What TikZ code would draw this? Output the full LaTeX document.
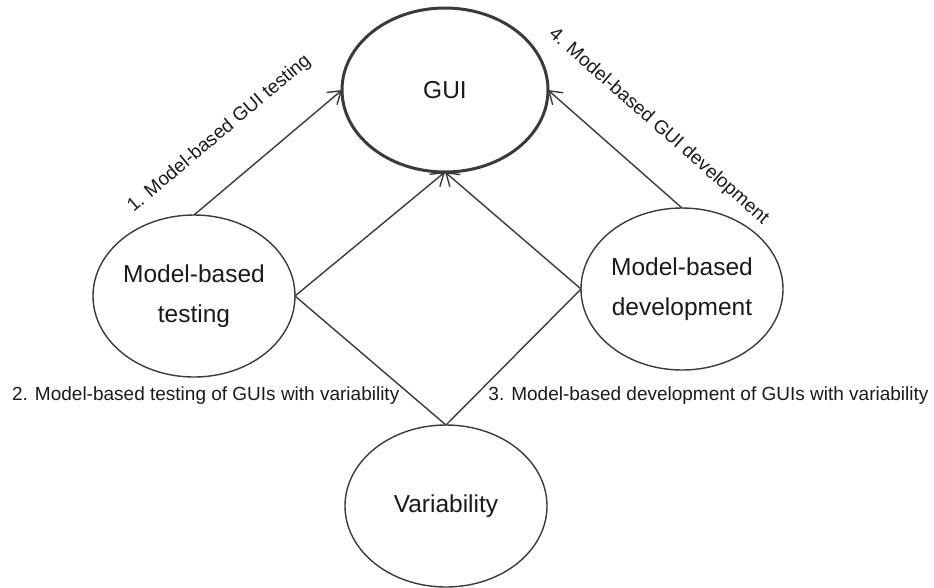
\documentclass[tikz,border=0pt]{standalone}
\usepackage{fontspec}
\setmainfont{Liberation Sans}
\usetikzlibrary{shapes.geometric,arrows.meta}
\definecolor{linegray}{HTML}{3A3A3A}
\definecolor{textgray}{HTML}{1A1A1A}

\begin{document}
\begin{tikzpicture}[x=1pt,y=-1pt]
   \tikzstyle{topic}=[draw=linegray, ellipse, line width=1.4pt, minimum width=202pt, minimum height=162pt, inner sep=0pt, outer sep=0pt, align=center, text=textgray, font=\fontsize{24.5}{40}\selectfont]
   \tikzstyle{link}=[draw=linegray, line width=1.4pt]
   \tikzstyle{into}=[link, -{Straight Barb[length=12pt, width=16pt]}]
   \tikzstyle{lbl}=[text=textgray, inner sep=0pt, font=\fontsize{19}{22}\selectfont]

   \useasboundingbox (0,0) rectangle (934,587);

\node[topic, line width=3pt, minimum width=206pt, minimum height=164pt] (gui) at (445,90) {GUI};
\node[topic] (mbt) at (194,296) {Model-based\\testing};
\node[topic] (mbd) at (682,289) {Model-based\\development};
\node[topic] (var) at (446,506) {Variability};

\draw[into] (mbt.north) -- (gui.west)
    node[lbl, pos=0.37, sloped, above=36pt] {1. Model-based GUI testing};
\draw[into] (mbt.east) -- (gui.south);
\draw[into] (mbd.west) -- (gui.south);
\draw[into] (mbd.north) -- (gui.east)
    node[lbl, pos=0.40, sloped, above=36pt] {4. Model-based GUI development};
\draw[link] (mbt.east) -- (var.north)
    node[lbl, pos=0.775, anchor=east, xshift=-12pt] {2. Model-based testing of GUIs with variability};
\draw[link] (mbd.west) -- (var.north)
    node[lbl, pos=0.787, anchor=west, xshift=13pt] {3. Model-based development of GUIs with variability};

\end{tikzpicture}
\end{document}
